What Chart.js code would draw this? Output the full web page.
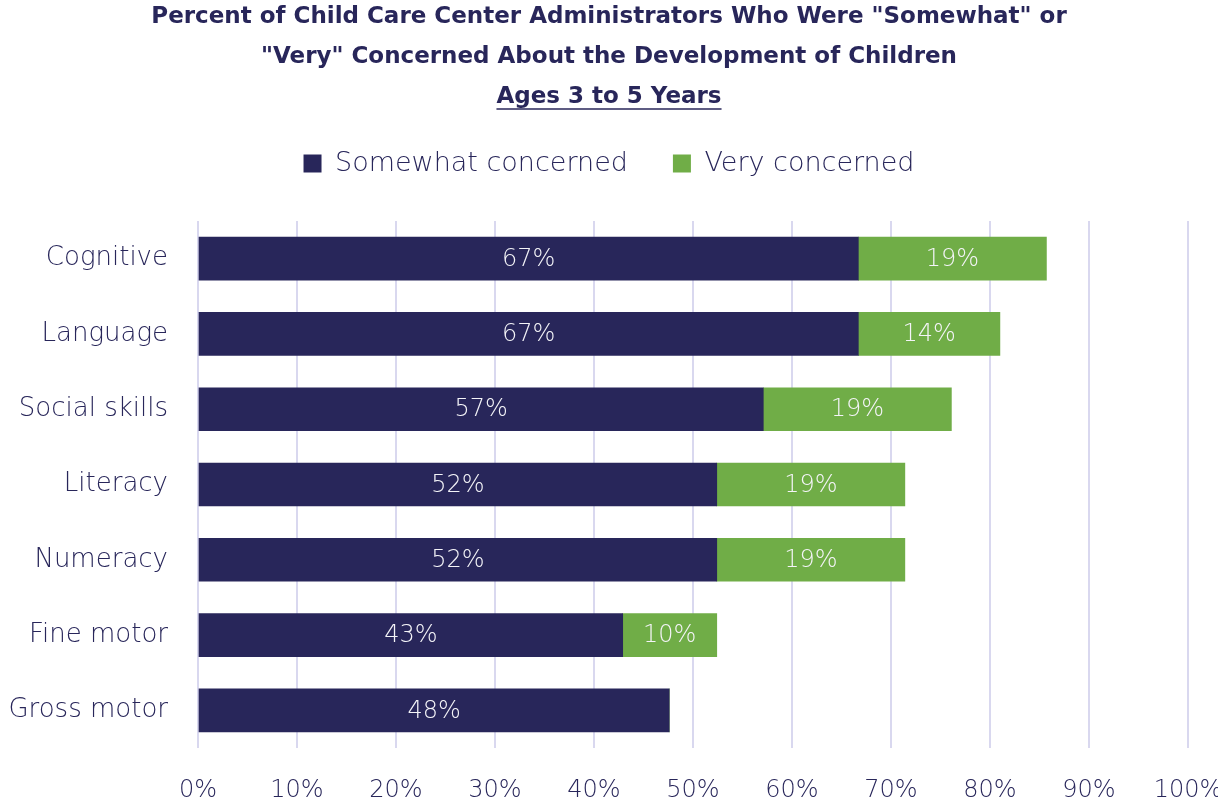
<!DOCTYPE html>
<html>
<head>
<meta charset="utf-8">
<script src="https://cdn.jsdelivr.net/npm/chart.js@4.4.1/dist/chart.umd.min.js"></script>
<style>
  html, body { margin: 0; padding: 0; background: #ffffff; }
  #wrap { width: 1218px; height: 806px; position: relative; }
</style>
</head>
<body>
<div id="wrap"><canvas id="c" width="1218" height="806"></canvas></div>
<script>
const categories = ["Cognitive", "Language", "Social skills", "Literacy", "Numeracy", "Fine motor", "Gross motor"];
const somewhatConcerned = [66.7, 66.7, 57.1, 52.4, 52.4, 42.9, 47.6];
const veryConcerned = [19.0, 14.3, 19.0, 19.0, 19.0, 9.5, 0];
const seriesNames = ["Somewhat concerned", "Very concerned"];
const titleLines = ['Percent of Child Care Center Administrators Who Were "Somewhat" or', '"Very" Concerned About the Development of Children', 'Ages 3 to 5 Years'];

const NAVY = '#28265a';
const GREEN = '#70ad47';
const FONT = "'DejaVu Sans', sans-serif";

const valueLabels = {
  id: 'valueLabels',
  afterDatasetsDraw(chart) {
    const ctx = chart.ctx;
    ctx.save();
    ctx.font = "200 24px " + FONT;
    ctx.fillStyle = '#f4f4f8';
    ctx.textAlign = 'center';
    ctx.textBaseline = 'middle';
    chart.data.datasets.forEach((ds, di) => {
      const meta = chart.getDatasetMeta(di);
      meta.data.forEach((bar, i) => {
        const v = ds.data[i];
        if (!v) return;
        const cx = (bar.x + bar.base) / 2;
        ctx.fillText(Math.round(v) + '%', cx, bar.y + 1);
      });
    });
    ctx.restore();
  }
};

const titleUnderline = {
  id: 'titleUnderline',
  afterDraw(chart) {
    const tb = chart.titleBlock;
    if (!tb) return;
    const ctx = chart.ctx;
    const opts = chart.options.plugins.title;
    const fs = opts.font.size;
    const lh = fs * opts.font.lineHeight;
    ctx.save();
    ctx.font = opts.font.weight + ' ' + fs + 'px ' + FONT;
    const w = ctx.measureText(titleLines[2]).width;
    const cx = chart.width / 2;
    const cy = tb.top + opts.padding.top + lh * 2 + lh / 2;
    ctx.strokeStyle = NAVY;
    ctx.lineWidth = 1.5;
    ctx.beginPath();
    ctx.moveTo(cx - w / 2, cy + 12);
    ctx.lineTo(cx + w / 2, cy + 12);
    ctx.stroke();
    ctx.restore();
  }
};

const legendSpacer = {
  id: 'legendSpacer',
  beforeInit(chart) {
    const orig = chart.legend.fit;
    chart.legend.fit = function () {
      orig.call(this);
      this.height += 34;
    };
  }
};

new Chart(document.getElementById('c'), {
  type: 'bar',
  data: {
    labels: categories,
    datasets: [
      { label: seriesNames[0], data: somewhatConcerned, backgroundColor: NAVY, barThickness: 43 },
      { label: seriesNames[1], data: veryConcerned, backgroundColor: GREEN, barThickness: 43 }
    ]
  },
  options: {
    indexAxis: 'y',
    responsive: false,
    animation: false,
    devicePixelRatio: 1,
    layout: { padding: { top: 0, left: 0, right: 0, bottom: 0 } },
    plugins: {
      title: {
        display: true,
        text: titleLines,
        color: NAVY,
        font: { family: FONT, size: 23, weight: 'bold', lineHeight: 40 / 23 },
        padding: { top: -3, bottom: -12 }
      },
      legend: {
        display: true,
        position: 'top',
        labels: {
          color: NAVY,
          font: { family: FONT, size: 27, weight: '200' },
          boxWidth: 18,
          boxHeight: 18,
          padding: 45
        }
      },
      tooltip: { enabled: false }
    },
    scales: {
      x: {
        stacked: true,
        min: 0,
        max: 100,
        ticks: {
          stepSize: 10,
          color: NAVY,
          font: { family: FONT, size: 24, weight: '200' },
          padding: 28,
          callback: v => v + '%'
        },
        grid: { color: '#d9d8ef', lineWidth: 2, drawTicks: false },
        border: { display: false },
        afterFit(scale) { scale.height = 58; scale.paddingRight = 30; }
      },
      y: {
        stacked: true,
        ticks: {
          color: NAVY,
          font: { family: FONT, size: 26, weight: '200' },
          padding: 22
        },
        grid: { display: false },
        border: { display: false },
        afterFit(scale) { scale.width = 198; }
      }
    }
  },
  plugins: [valueLabels, titleUnderline, legendSpacer]
});
</script>
</body>
</html>
